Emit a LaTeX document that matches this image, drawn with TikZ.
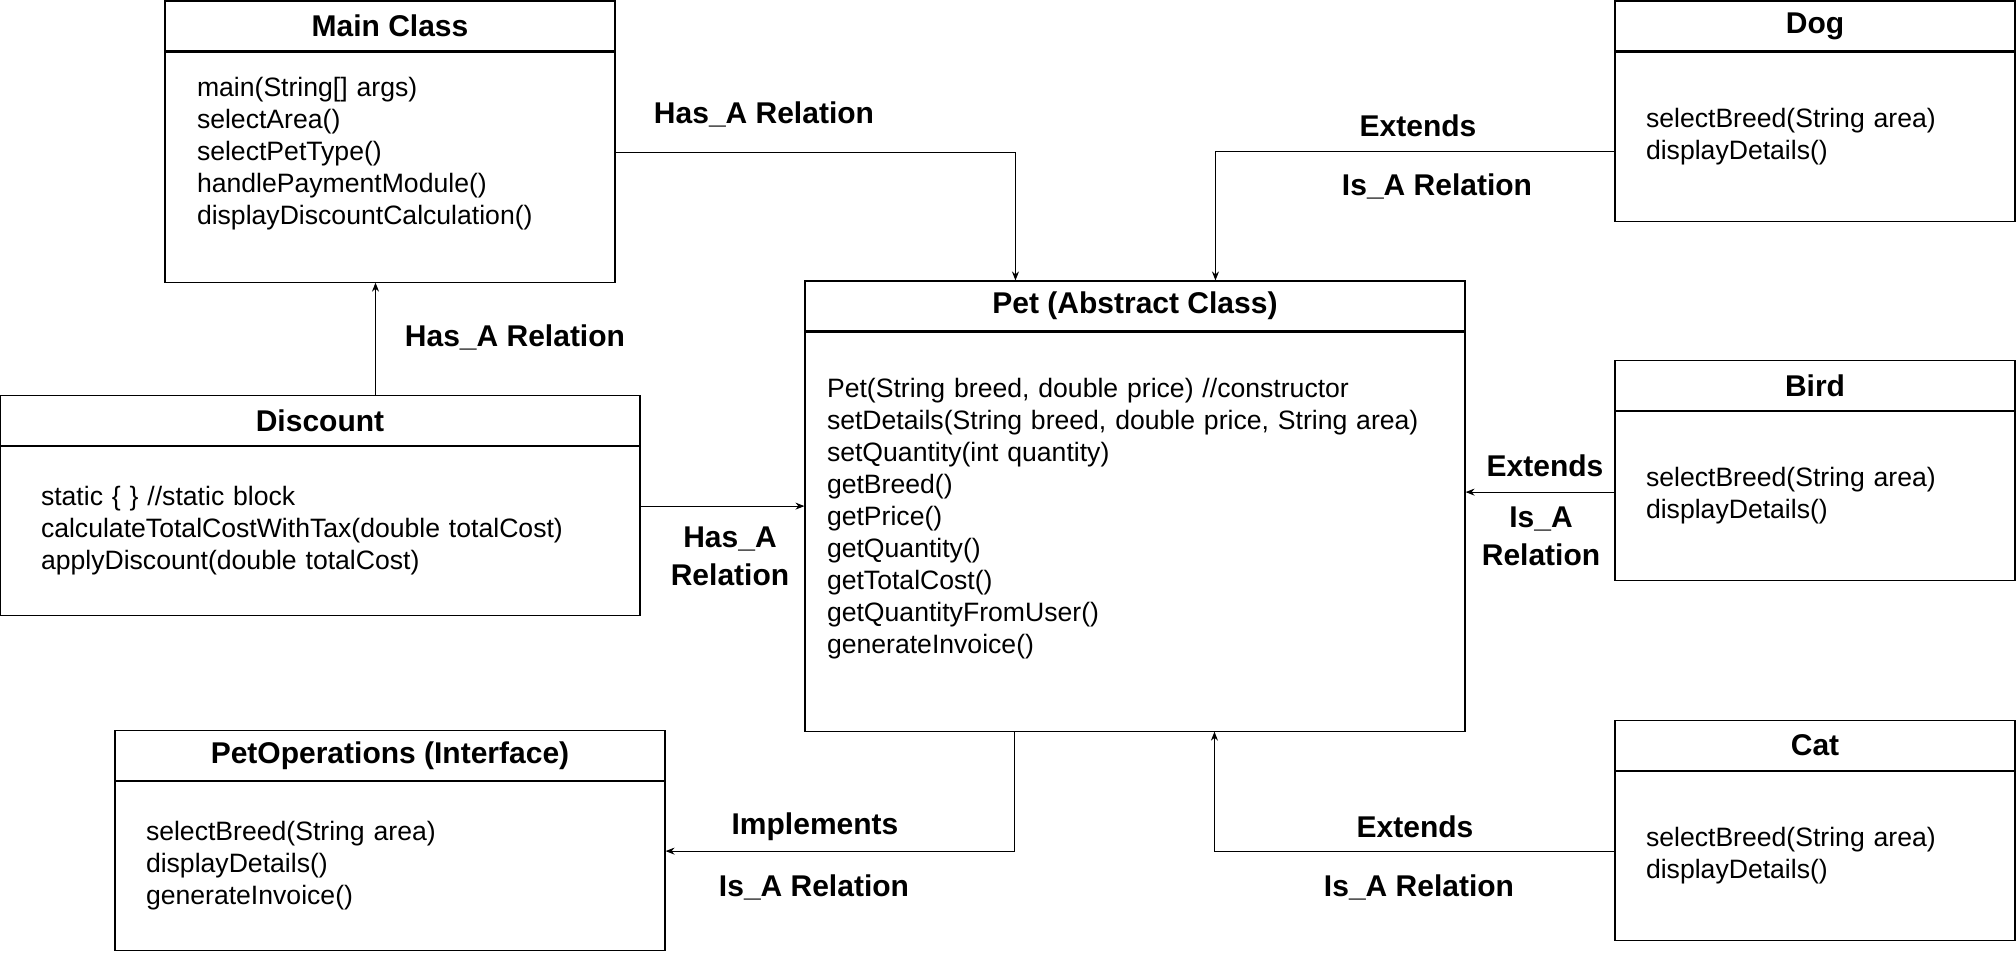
\documentclass[tikz,border=0pt]{standalone}
\usepackage{fontspec}
\setmainfont{Liberation Sans}
\usetikzlibrary{positioning, arrows.meta}

\begin{document}
\begin{tikzpicture}[x=0.5pt, y=-0.5pt, line width=0.55pt, >={Stealth[length=4.5pt, width=3.5pt]},
    head/.style = {draw, minimum height=25pt, inner sep=0pt, font=\bfseries\fontsize{15}{18}\selectfont},
    body/.style = {draw, align=left, inner ysep=0pt, font=\fontsize{13.3}{16}\selectfont},
    rel/.style  = {align=center, font=\bfseries\fontsize{15}{19}\selectfont}]
  \useasboundingbox (0,0) rectangle (2016,952);

  % classes
  \node[head, minimum width=225pt] (main) at (390,26) {Main Class};
  \node[body, inner xsep=16pt, text width=193pt, minimum height=115pt, below=0pt of main] (mainb)
    {main(String[] args)\\ selectArea()\\ selectPetType()\\ handlePaymentModule()\\ displayDiscountCalculation()\\ \mbox{}};
  \node[head, minimum width=320pt] (disc) at (320,420.5) {Discount};
  \node[body, inner xsep=20.5pt, text width=279pt, minimum height=84.5pt, below=0pt of disc] (discb)
    {static \{ \} //static block\\ calculateTotalCostWithTax(double totalCost)\\ applyDiscount(double totalCost)};
  \node[head, minimum width=275pt] (ops) at (390,755.5) {PetOperations (Interface)};
  \node[body, inner xsep=15.5pt, text width=244pt, minimum height=84.5pt, below=0pt of ops] (opsb)
    {selectBreed(String area)\\ displayDetails()\\ generateInvoice()};
  \node[head, minimum width=330pt] (pet) at (1135,306) {Pet (Abstract Class)};
  \node[body, inner xsep=11pt, text width=308pt, minimum height=199.5pt, below=0pt of pet] (petb)
    {Pet(String breed, double price) //constructor\\ setDetails(String breed, double price, String area)\\
     setQuantity(int quantity)\\ getBreed()\\ getPrice()\\ getQuantity()\\ getTotalCost()\\
     getQuantityFromUser()\\ generateInvoice()\\ \mbox{}};
  \node[head, minimum width=200pt] (dog) at (1815,26) {Dog};
  \node[body, inner xsep=15.5pt, text width=169pt, minimum height=84.5pt, below=0pt of dog] (dogb)
    {selectBreed(String area)\\ displayDetails()};
  \node[head, minimum width=200pt] (bird) at (1815,385.5) {Bird};
  \node[body, inner xsep=15.5pt, text width=169pt, minimum height=84.5pt, below=0pt of bird] (birdb)
    {selectBreed(String area)\\ displayDetails()};
  \node[head, minimum width=200pt] (cat) at (1815,745.5) {Cat};
  \node[body, inner xsep=15.5pt, text width=169pt, minimum height=84.5pt, below=0pt of cat] (catb)
    {selectBreed(String area)\\ displayDetails()};

  % relations
  \draw[->] ([yshift=7.5pt]mainb.east) -| ([xshift=105.5pt]pet.north west);
  \draw[->] ([xshift=-7.25pt]mainb.south |- disc.north) -- ([xshift=-7.25pt]mainb.south);
  \draw[->] ([yshift=12.5pt]discb.east) -- ([yshift=12.5pt]discb.east -| petb.west);
  \draw[->] ([yshift=-7.5pt]dogb.west) -| ([xshift=205.5pt]pet.north west);
  \draw[->] ([yshift=2pt]birdb.west) -- ([yshift=2pt]birdb.west -| petb.east);
  \draw[->] ([yshift=2.5pt]catb.west) -| ([xshift=205pt]petb.south west);
  \draw[->] ([xshift=105pt]petb.south west) |- ([yshift=7.5pt]opsb.east);

  \node[rel] (hasmain) at (764,114) {Has\_A Relation};
  \node[rel] (hasdisc) at (515,337) {Has\_A Relation};
  \node[rel] (haspet)  at (730,556) {Has\_A\\ Relation};
  \node[rel] (extdog)  at (1418,126) {Extends};
  \node[rel] (isdog)   at (1437,186) {Is\_A Relation};
  \node[rel] (extbird) at (1545,466) {Extends};
  \node[rel] (isbird)  at (1541,536) {Is\_A\\ Relation};
  \node[rel] (impl)    at (815,827) {Implements};
  \node[rel] (isops)   at (814,887) {Is\_A Relation};
  \node[rel] (extcat)  at (1415,827) {Extends};
  \node[rel] (iscat)   at (1419,887) {Is\_A Relation};
\end{tikzpicture}
\end{document}
